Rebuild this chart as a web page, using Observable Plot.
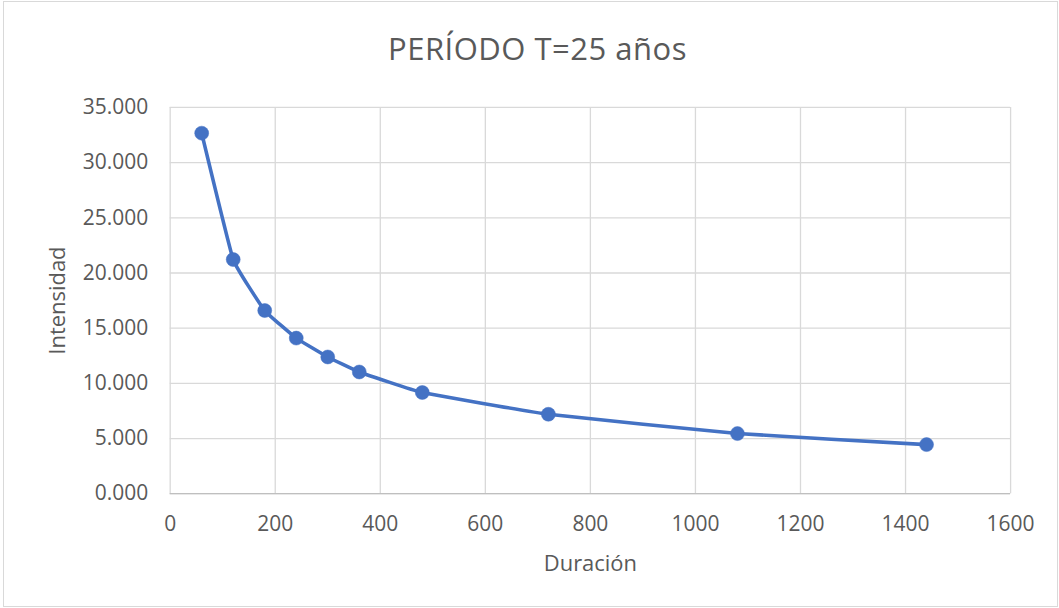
<!DOCTYPE html>
<html>
<head>
<meta charset="utf-8">
<script src="https://cdn.jsdelivr.net/npm/d3@7"></script>
<script src="https://cdn.jsdelivr.net/npm/@observablehq/plot@0.6"></script>
<style>
  html, body { margin: 0; padding: 0; background: #fff; }
  #frame { position: relative; width: 1055px; height: 606px; margin: 1px 0 0 3px; border: 1px solid #d9d9d9; box-sizing: border-box; overflow: hidden; font-family: "Open Sans", sans-serif; }
  #title { position: absolute; left: 0; top: 25px; width: 1067px; text-align: center; font-size: 31px; color: #595959; letter-spacing: 0.5px; }
  #chart { position: absolute; left: -4px; top: 78px; }
</style>
</head>
<body>
<div id="frame">
  <div id="title">PERÍODO T=25 años</div>
  <div id="chart"></div>
</div>
<script>
const duracion = [60, 120, 180, 240, 300, 360, 480, 720, 1080, 1440];
const intensidad = [32.67, 21.22, 16.6, 14.1, 12.39, 11.03, 9.17, 7.2, 5.45, 4.45];
const xTicks = [0, 200, 400, 600, 800, 1000, 1200, 1400, 1600];
const yTicks = [0, 5, 10, 15, 20, 25, 30, 35];

const data = duracion.map((d, i) => ({x: d, y: intensidad[i]}));
const blue = "#4472c4";
const grid = "#d9d9d9";

const chart = Plot.plot({
  width: 1059,
  height: 528,
  marginTop: 27,
  marginBottom: 114,
  marginLeft: 170,
  marginRight: 47,
  style: {fontFamily: "'Open Sans', sans-serif", fontSize: "21px", color: "#595959", background: "transparent", overflow: "visible"},
  x: {domain: [0, 1600]},
  y: {domain: [0, 35]},
  marks: [
    Plot.gridX(xTicks, {stroke: grid, strokeOpacity: 1, strokeWidth: 1.3}),
    Plot.gridY(yTicks, {stroke: grid, strokeOpacity: 1, strokeWidth: 1.3}),
    Plot.ruleY([0], {stroke: "#bfbfbf", strokeWidth: 1.3}),
    Plot.axisX(xTicks, {tickSize: 0, tickPadding: 22, tickFormat: d => String(d), label: null, fill: "#595959", fontSize: 21}),
    Plot.axisY(yTicks, {tickSize: 0, tickPadding: 22, tickFormat: d => d.toFixed(3), label: null, fill: "#595959", fontSize: 21}),
    Plot.text(["Duración"], {frameAnchor: "bottom", dy: 77, fill: "#595959", fontSize: 22}),
    Plot.text(["Intensidad"], {frameAnchor: "left", textAnchor: "middle", dx: -112, rotate: -90, fill: "#595959", fontSize: 22}),
    Plot.line(data, {x: "x", y: "y", stroke: blue, strokeWidth: 3.6, curve: "cardinal", tension: 0.7}),
    Plot.dot(data, {x: "x", y: "y", r: 7, fill: blue, stroke: blue, strokeWidth: 0.5})
  ]
});
document.getElementById("chart").appendChild(chart);
</script>
</body>
</html>
